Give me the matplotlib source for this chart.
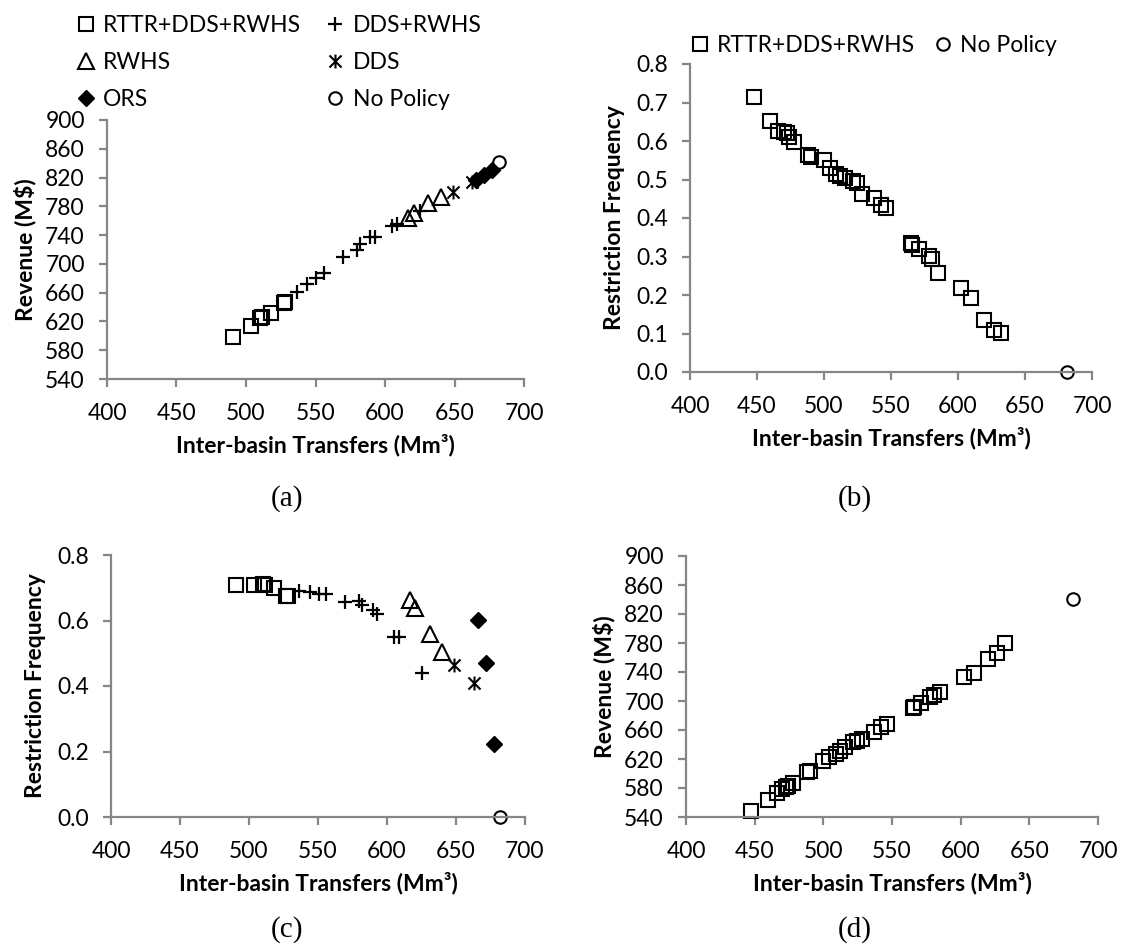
import matplotlib
matplotlib.use('Agg')
import matplotlib.pyplot as plt
from matplotlib.lines import Line2D
from matplotlib.path import Path

plt.rcParams['font.family'] = ['Lato', 'DejaVu Sans']

# ---------------- data: panels (a) and (c) ----------------
rttr_x = [490.4, 503.5, 510.3, 511.7, 518.2, 527.0, 528.2]
rttr_rev = [598.8, 613.7, 624.4, 626.0, 632.2, 645.2, 647.5]
rttr_rf = [0.708, 0.708, 0.710, 0.708, 0.698, 0.676, 0.674]

ddsrwhs_x = [536.4, 544.0, 550.5, 556.0, 569.7, 580.0, 581.8, 589.5, 593.0, 605.2, 608.7, 625.2]
ddsrwhs_rev = [661.4, 672.1, 680.8, 687.8, 709.2, 719.3, 727.0, 737.8, 737.8, 752.7, 755.5, 773.0]
ddsrwhs_rf = [0.691, 0.686, 0.681, 0.681, 0.655, 0.659, 0.647, 0.632, 0.620, 0.550, 0.550, 0.440]

rwhs_x = [616.6, 620.6, 631.2, 640.2]
rwhs_rev = [763.4, 770.3, 784.2, 792.6]
rwhs_rf = [0.662, 0.637, 0.560, 0.504]

dds_x = [648.9, 662.9]
dds_rev = [800.4, 814.3]
dds_rf = [0.464, 0.410]

ors_x = [665.8, 671.4, 677.3]
ors_rev = [817.0, 824.0, 831.0]
ors_rf = [0.603, 0.469, 0.224]

nopol_x = [681.7]
nopol_rev = [841.0]
nopol_rf = [0.0]

# ---------------- data: panels (b) and (d) ----------------
par_x = [447.5, 459.6, 466.0, 470.0, 472.5, 474.0, 477.7, 488.0, 490.0, 500.0, 504.3,
         509.0, 512.0, 516.0, 521.5, 524.6, 528.0, 537.0, 542.3, 546.0, 565.0, 566.0,
         571.0, 578.0, 580.5, 585.0, 602.6, 609.5, 619.7, 626.5, 632.0]
par_rev = [548.2, 563.8, 573.4, 578.5, 581.5, 583.0, 587.1, 602.7, 604.1, 617.8, 622.4,
           627.0, 631.5, 636.1, 643.0, 645.0, 647.0, 657.6, 663.6, 668.1, 690.5, 691.5,
           697.9, 706.1, 708.0, 712.5, 733.1, 739.1, 757.4, 766.0, 780.2]
par_rf = [0.715, 0.652, 0.627, 0.624, 0.621, 0.611, 0.598, 0.564, 0.558, 0.551, 0.529,
          0.514, 0.510, 0.505, 0.495, 0.491, 0.463, 0.451, 0.433, 0.425, 0.335, 0.331,
          0.319, 0.302, 0.293, 0.256, 0.217, 0.193, 0.136, 0.108, 0.101]

x_ticks = [400, 450, 500, 550, 600, 650, 700]
rev_ticks = [540, 580, 620, 660, 700, 740, 780, 820, 860, 900]
rf_ticks_b = [0.0, 0.1, 0.2, 0.3, 0.4, 0.5, 0.6, 0.7, 0.8]
rf_ticks_c = [0.0, 0.2, 0.4, 0.6, 0.8]

W, H = 1130, 949
fig = plt.figure(figsize=(W / 100, H / 100), dpi=100)

GREY = '#868686'
FS = 16.5
XLABEL = 'Inter-basin Transfers (Mm³)'


def make_ax(left, right, top, bottom):
    ax = fig.add_axes([left / W, 1 - bottom / H, (right - left) / W, (bottom - top) / H])
    for s in ['top', 'right']:
        ax.spines[s].set_visible(False)
    for s in ['left', 'bottom']:
        ax.spines[s].set_color(GREY)
        ax.spines[s].set_linewidth(1.6)
    ax.tick_params(axis='both', colors=GREY, labelcolor='black', labelsize=FS,
                   length=5.5, width=1.6, direction='out')
    ax.tick_params(axis='x', pad=12)
    ax.tick_params(axis='y', pad=10.5)
    ax.set_xlim(400, 700)
    ax.set_xticks(x_ticks)
    ax.set_xlabel(XLABEL, fontsize=FS, fontweight='bold', labelpad=7)
    return ax


ast_path = Path([(-1, -1), (1, 1), (-1, 1), (1, -1), (0, -1.15), (0, 1.15)],
                [Path.MOVETO, Path.LINETO, Path.MOVETO, Path.LINETO, Path.MOVETO, Path.LINETO])

sq = dict(marker='s', ms=10, mfc='none', mec='black', mew=1.5, ls='none', clip_on=False)
pl = dict(marker='+', ms=10.5, mec='black', mew=1.6, ls='none', clip_on=False)
tr = dict(marker='^', ms=11, mfc='none', mec='black', mew=1.5, ls='none', clip_on=False)
st = dict(marker=ast_path, ms=10, mec='black', mew=1.5, ls='none', clip_on=False)
di = dict(marker='D', ms=8.5, mfc='black', mec='black', mew=1, ls='none', clip_on=False)
ci = dict(marker='o', ms=9, mfc='none', mec='black', mew=1.5, ls='none', clip_on=False)

# ---- (a)
axa = make_ax(107, 524, 120, 379)
axa.plot(rttr_x, rttr_rev, **sq)
axa.plot(ddsrwhs_x, ddsrwhs_rev, **pl)
axa.plot(rwhs_x, rwhs_rev, **tr)
axa.plot(dds_x, dds_rev, **st)
axa.plot(ors_x, ors_rev, **di)
axa.plot(nopol_x, nopol_rev, **ci)
axa.set_ylim(540, 900)
axa.set_yticks(rev_ticks)
axa.set_ylabel('Revenue (M$)', fontsize=FS, fontweight='bold', labelpad=6)

# ---- (b)
axb = make_ax(690, 1092, 64, 372)
axb.plot(par_x, par_rf, **sq)
axb.plot(nopol_x, nopol_rf, **ci)
axb.set_ylim(0, 0.8)
axb.set_yticks(rf_ticks_b)
axb.set_yticklabels([f'{v:.1f}' for v in rf_ticks_b])
axb.set_ylabel('Restriction Frequency', fontsize=FS, fontweight='bold', labelpad=8)

# ---- (c)
axc = make_ax(111, 525, 555, 817)
axc.plot(rttr_x, rttr_rf, **sq)
axc.plot(ddsrwhs_x, ddsrwhs_rf, **pl)
axc.plot(rwhs_x, rwhs_rf, **tr)
axc.plot(dds_x, dds_rf, **st)
axc.plot(ors_x, ors_rf, **di)
axc.plot(nopol_x, nopol_rf, **ci)
axc.set_ylim(0, 0.8)
axc.set_yticks(rf_ticks_c)
axc.set_yticklabels([f'{v:.1f}' for v in rf_ticks_c])
axc.set_ylabel('Restriction Frequency', fontsize=FS, fontweight='bold', labelpad=8)

# ---- (d)
axd = make_ax(686, 1098, 556, 817)
axd.plot(par_x, par_rev, **sq)
axd.plot(nopol_x, nopol_rev, **ci)
axd.set_ylim(540, 900)
axd.set_yticks(rev_ticks)
axd.set_ylabel('Revenue (M$)', fontsize=FS, fontweight='bold', labelpad=6)

# ---- legends
def h(style):
    d = dict(style)
    d.pop('clip_on', None)
    return Line2D([], [], **d)

hs = [h(sq), h(tr), h(di), h(pl), h(st), h(ci)]
ls = ['RTTR+DDS+RWHS', 'RWHS', 'ORS', 'DDS+RWHS', 'DDS', 'No Policy']
fig.legend(hs, ls, ncol=2, loc='upper left', bbox_to_anchor=(64 / W, 1 - 4 / H),
           frameon=False, fontsize=FS, handlelength=0.9, handletextpad=0.3,
           labelspacing=0.68, columnspacing=1.05, borderpad=0)

fig.legend([h(sq), h(ci)], ['RTTR+DDS+RWHS', 'No Policy'], ncol=2, loc='upper left',
           bbox_to_anchor=(678 / W, 1 - 24 / H), frameon=False, fontsize=FS,
           handlelength=0.9, handletextpad=0.3, columnspacing=0.75, borderpad=0)

# ---- captions
cap = dict(fontsize=21, family='Liberation Serif', ha='center', va='center')
fig.text(287 / W, 1 - 499 / H, '(a)', **cap)
fig.text(855 / W, 1 - 499 / H, '(b)', **cap)
fig.text(287 / W, 1 - 930 / H, '(c)', **cap)
fig.text(855 / W, 1 - 930 / H, '(d)', **cap)

fig.savefig('out.png', dpi=100)
